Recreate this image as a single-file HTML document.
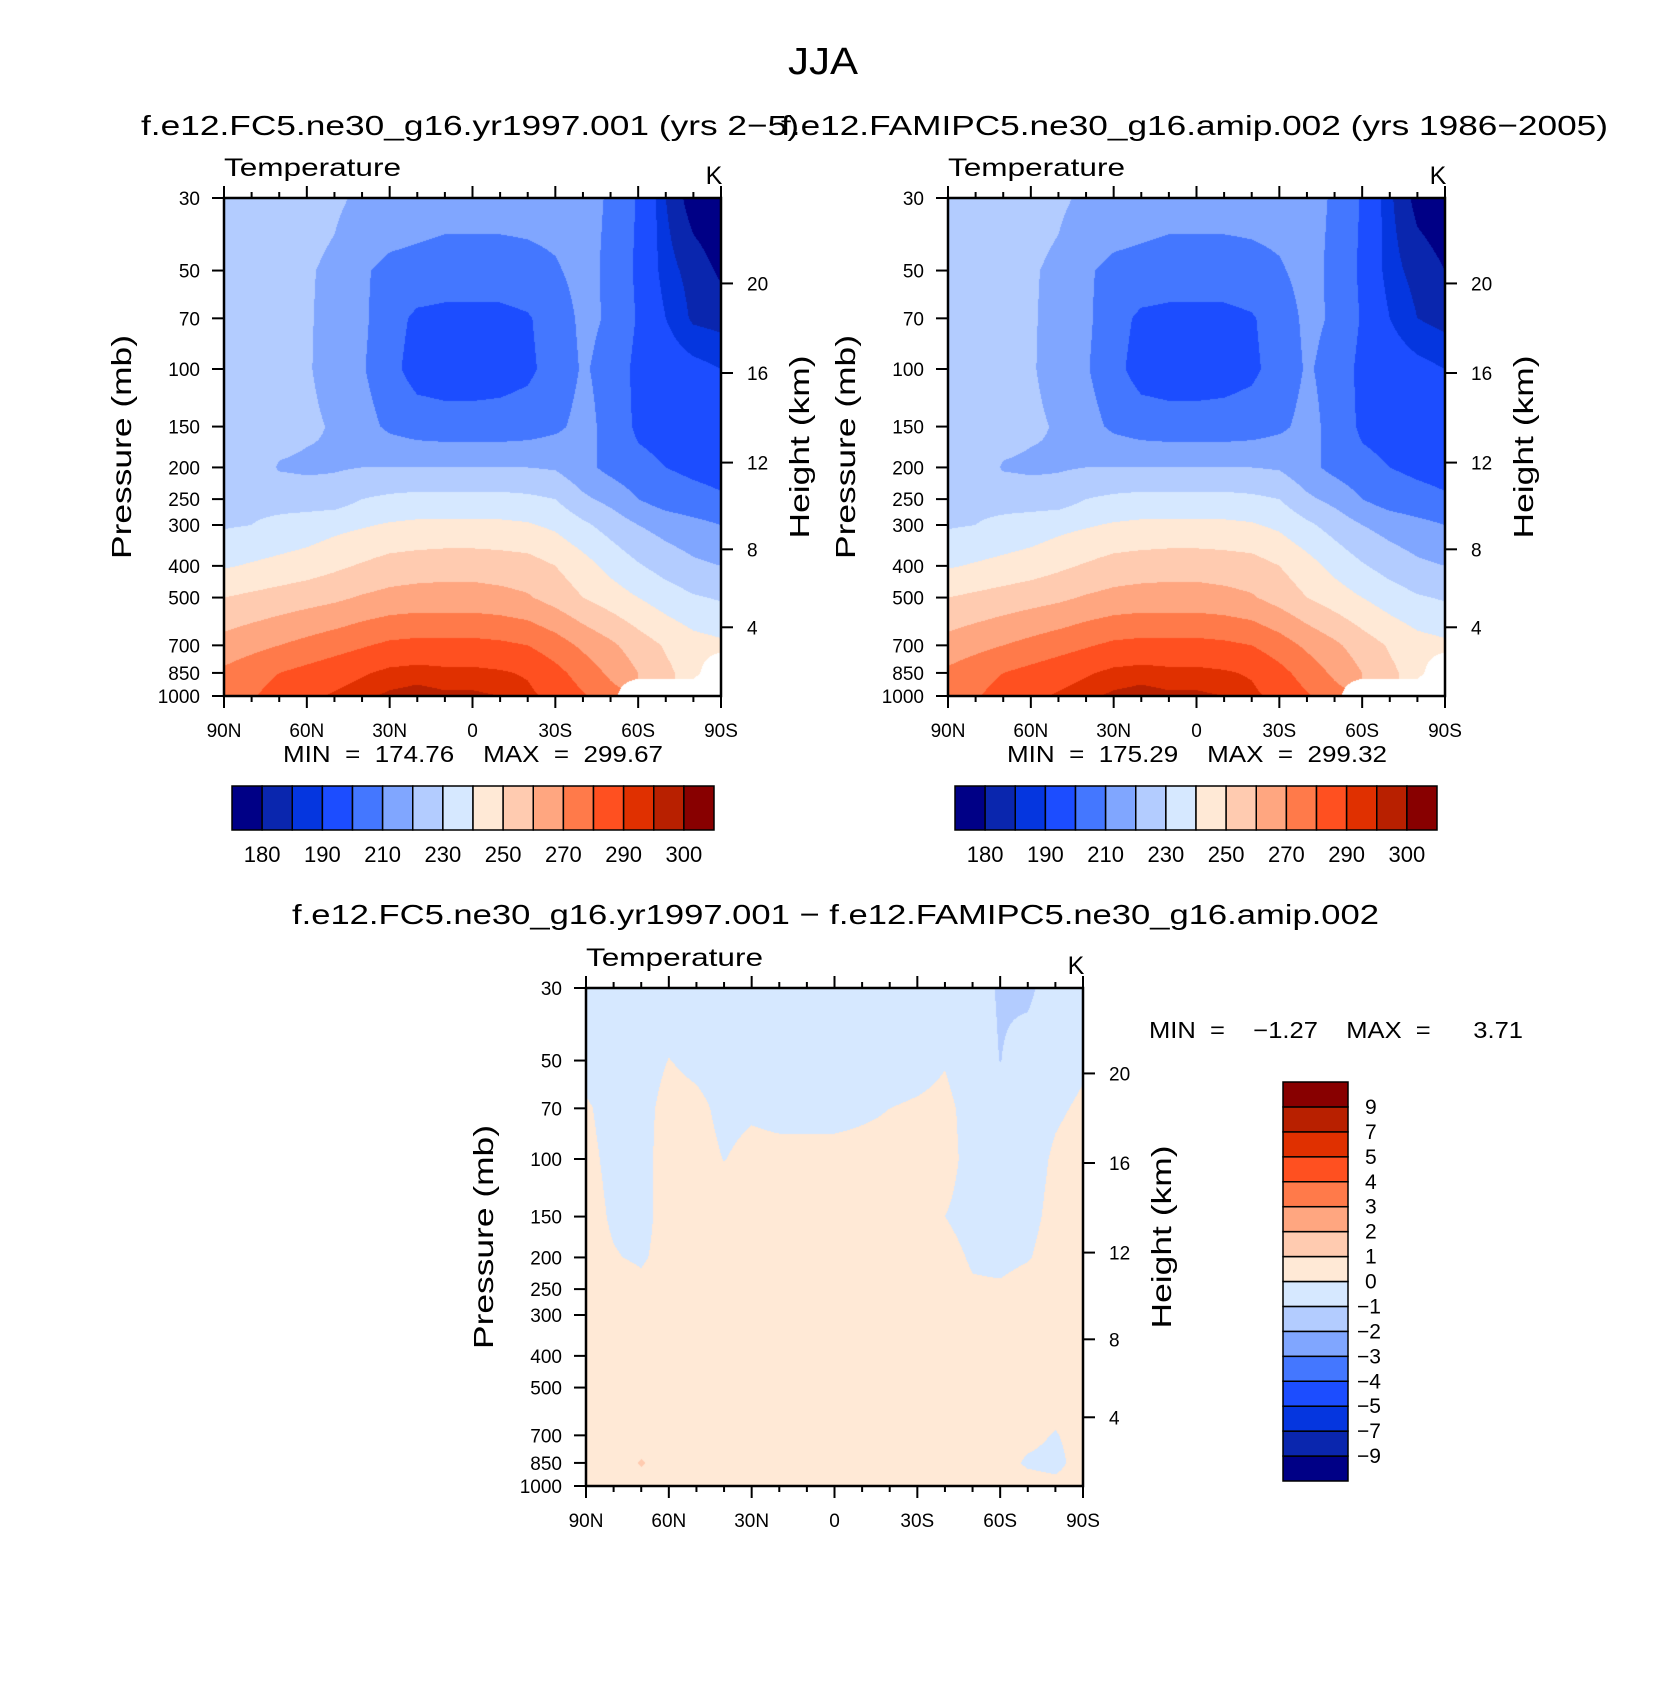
<!DOCTYPE html>
<html><head><meta charset="utf-8">
<style>
html,body{margin:0;padding:0;background:#fff;}
#wrap{position:relative;width:1666px;height:1688px;overflow:hidden;font-family:"Liberation Sans",sans-serif;}
canvas{position:absolute;}
svg{position:absolute;left:0;top:0;}
</style></head>
<body>
<div id="wrap">
<canvas id="c1" width="497" height="498" style="left:224px;top:198px"></canvas>
<canvas id="c2" width="497" height="498" style="left:948px;top:198px"></canvas>
<canvas id="c3" width="497" height="498" style="left:586px;top:988px"></canvas>
<svg id="svg" width="1666" height="1688" viewBox="0 0 1666 1688"></svg>
</div>
<script>
// ---- data ----
const lats = [90,80,70,60,50,40,30,20,10,0,-10,-20,-30,-40,-50,-60,-70,-80,-90];
const plevs = [30,50,70,100,150,200,250,300,400,500,700,850,1000];
const absLevels = [180,185,190,200,210,220,230,240,250,260,270,280,290,295,300];
const absTicks = ["180","190","210","230","250","270","290","300"];
const diffLevels = [-9,-7,-5,-4,-3,-2,-1,0,1,2,3,4,5,7,9];
const diffTicks = ["-9","-7","-5","-4","-3","-2","-1","0","1","2","3","4","5","7","9"];
const xTickLabels = ["90N","60N","30N","0","30S","60S","90S"];
const pTickLabels = [30,50,70,100,150,200,250,300,400,500,700,850,1000];
const kmTicks = [4,8,12,16,20];
const N = null;
const tempCtl = [
[226,226,225,224,222,218,216,215,214,214,214,214,214,213,209,199,185,177,175],
[226,225,224,221,218,211,208,207,206,206,206,207,209,213,208,198,187,183,179],
[226,225,223,221,217,212,204,198,197,197,197,199,205,212,209,199,190,184,183],
[227,226,224,221,216,211,203,196,195,195,196,198,204,211,207,197,194,192,190],
[228,227,225,222,219,214,208,205,204,204,204,205,208,213,207,198,196,194,193],
[227,227,219,218,219,220,220,220,220,220,220,220,219,213,207,203,200,198,197],
[228,228,227,226,225,230,232,233,233,233,233,232,230,222,217,210,205,203,201],
[229,230,232,234,237,239,241,242,242,242,242,241,238,232,226,220,216,213,210],
[239,241,243,245,248,251,254,255,256,256,255,254,250,244,237,231,226,222,220],
[250,252,254,256,258,261,263,264,264,264,263,261,256,250,245,240,235,231,229],
[264,267,270,273,276,279,282,283,283,283,282,280,275,268,262,255,249,244,242],
[272,276,280,283,286,289,292,293,292,292,291,289,283,276,268,260,252,246,N],
[276,279,284,288,291,294,296,297,296,296,295,292,287,281,274,N,N,N,N]];
const tempAmip = [
[226,226,225,224,222,218,216,215,214,214,214,214,214,213,209,199,186,178,176],
[226,225,224,221,218,211,208,207,206,206,206,207,209,213,208,198,187,183,180],
[226,225,223,221,217,212,204,198,197,197,197,199,205,212,209,199,190,185,183],
[227,226,224,221,216,211,203,196,195,195,196,198,204,211,207,197,194,192,190],
[228,227,225,222,219,214,208,205,204,204,204,205,208,213,207,198,196,194,193],
[227,227,219,218,219,220,220,220,220,220,220,220,219,213,207,203,200,198,197],
[228,228,227,226,225,230,232,233,233,233,233,232,230,222,217,210,205,203,201],
[229,230,232,234,237,239,241,242,242,242,242,241,238,232,226,220,216,213,210],
[239,241,243,245,248,251,254,255,256,256,255,254,250,244,237,231,226,222,220],
[250,252,254,256,258,261,263,264,264,264,263,261,256,250,245,240,235,231,229],
[264,267,270,273,276,279,282,283,283,283,282,280,275,268,262,255,249,244,242],
[272,276,280,283,286,289,292,293,292,292,291,289,283,276,268,260,252,246,N],
[276,279,284,288,291,294,296,297,296,296,295,292,287,281,274,N,N,N,N]];
const tempDiff = [
[-0.5,-0.5,-0.5,-0.5,-0.5,-0.5,-0.5,-0.5,-0.5,-0.5,-0.5,-0.5,-0.5,-0.5,-0.6,-1.1,-1.2,-0.5,-0.4],
[-0.3,-0.4,-0.4,0.02,-0.2,-0.4,-0.4,-0.4,-0.4,-0.4,-0.4,-0.4,-0.3,-0.05,-0.5,-1.02,-0.6,-0.3,-0.1],
[0.1,-0.3,-0.3,0.3,0.2,-0.2,-0.1,-0.2,-0.2,-0.2,-0.1,0.0,0.1,0.2,-0.3,-0.5,-0.4,-0.1,0.1],
[0.2,-0.2,-0.3,0.4,0.3,-0.02,0.2,0.2,0.2,0.2,0.2,0.2,0.3,0.3,-0.3,-0.4,-0.3,0.1,0.3],
[0.3,-0.1,-0.3,0.4,0.4,0.4,0.4,0.4,0.4,0.4,0.4,0.4,0.4,0.0,-0.3,-0.4,-0.2,0.2,0.4],
[0.3,0.05,-0.1,0.3,0.4,0.4,0.4,0.4,0.4,0.4,0.4,0.4,0.4,0.3,-0.1,-0.2,-0.05,0.3,0.4],
[0.4,0.4,0.2,0.4,0.4,0.4,0.4,0.4,0.4,0.4,0.4,0.4,0.4,0.4,0.1,0.1,0.3,0.4,0.4],
[0.4,0.4,0.4,0.4,0.4,0.4,0.4,0.4,0.4,0.4,0.4,0.4,0.4,0.4,0.4,0.4,0.4,0.4,0.4],
[0.4,0.4,0.5,0.4,0.4,0.4,0.4,0.4,0.4,0.4,0.4,0.4,0.4,0.4,0.4,0.4,0.4,0.4,0.4],
[0.4,0.4,0.5,0.4,0.4,0.4,0.4,0.4,0.4,0.4,0.4,0.4,0.4,0.4,0.4,0.4,0.4,0.4,0.3],
[0.4,0.4,0.4,0.4,0.4,0.4,0.4,0.4,0.4,0.4,0.4,0.4,0.4,0.4,0.4,0.3,0.2,-0.05,0.3],
[0.4,0.4,1.1,0.4,0.4,0.4,0.4,0.4,0.4,0.4,0.4,0.4,0.4,0.4,0.4,0.3,-0.1,-0.2,0.3],
[0.4,0.4,0.5,0.4,0.4,0.4,0.4,0.4,0.4,0.4,0.4,0.4,0.4,0.4,0.4,0.3,0.3,0.2,0.3]];
const colors = ["#000086","#0a26ae","#0536df","#1c4dff","#4477ff","#80a6ff","#b3ccff","#d6e8ff",
 "#ffe9d6","#ffcbb0","#ffa680","#ff7a4a","#ff5020","#e03000","#b82000","#880000"];

// ---- axis functions ----
const W=497,H=498;
const lp0=Math.log10(30), lp1=Math.log10(1000);
function yOfP(p){return (Math.log10(p)-lp0)/(lp1-lp0)*H;}
function xOfLat(l){return (90-l)/180*W;}
function pOfKm(z){z*=1000; return z<=11000?1013.25*Math.pow(1-2.25577e-5*z,5.25588):226.32*Math.exp(-(z-11000)/6341.6);}
function colorIdx(v,lv){let k=0;for(const L of lv){if(v>=L)k++;}return k;}

function drawField(id,grid,lv){
  const cv=document.getElementById(id),ctx=cv.getContext('2d');
  const img=ctx.createImageData(W,H);
  const ly=plevs.map(p=>yOfP(p));
  const rgb=colors.map(c=>[parseInt(c.substr(1,2),16),parseInt(c.substr(3,2),16),parseInt(c.substr(5,2),16)]);
  for(let y=0;y<H;y++){
    let j=0;while(j<plevs.length-2&&ly[j+1]<y+0.5)j++;
    const ty=Math.min(1,Math.max(0,(y+0.5-ly[j])/(ly[j+1]-ly[j])));
    for(let x=0;x<W;x++){
      const fx=(x+0.5)/W*(lats.length-1);let i=Math.min(lats.length-2,Math.floor(fx));const tx=fx-i;
      const a=grid[j][i],b=grid[j][i+1],c=grid[j+1][i],d=grid[j+1][i+1];
      const o=(y*W+x)*4;
      let col=[255,255,255];
      if(a!==null&&b!==null&&c!==null&&d!==null){
        const v=(a*(1-tx)+b*tx)*(1-ty)+(c*(1-tx)+d*tx)*ty;
        col=rgb[colorIdx(v,lv)];
      } else {
        let s=0,w=0;const cs=[[a,(1-tx)*(1-ty)],[b,tx*(1-ty)],[c,(1-tx)*ty],[d,tx*ty]];
        for(const [val,wt] of cs){if(val!==null){s+=val*wt;w+=wt;}}
        if(w>0.75){col=rgb[colorIdx(s/w,lv)];}
      }
      img.data[o]=col[0];img.data[o+1]=col[1];img.data[o+2]=col[2];img.data[o+3]=255;
    }
  }
  ctx.putImageData(img,0,0);
}
drawField('c1',tempCtl,absLevels);
drawField('c2',tempAmip,absLevels);
drawField('c3',tempDiff,diffLevels);

// ---- svg overlay ----
const svg=document.getElementById('svg');
const NS='http://www.w3.org/2000/svg';
function mk(tag,attrs,parent){const e=document.createElementNS(NS,tag);for(const k in attrs)e.setAttribute(k,attrs[k]);(parent||svg).appendChild(e);return e;}
function txt(s,x,y,size,anchor,parent,len){const t=mk('text',{x:x,y:y,'font-size':size,'text-anchor':anchor||'start','font-family':'Liberation Sans, sans-serif',fill:'#000'},parent);
  if(len){t.setAttribute('textLength',len);t.setAttribute('lengthAdjust','spacingAndGlyphs');}
  t.textContent=s;return t;}

const t0=txt('JJA',823,74,38,'middle',null,70);

const st1=txt('f.e12.FC5.ne30_g16.yr1997.001 (yrs 2\u22125)',141,135,28,'start',null,658);

const st2=txt('f.e12.FAMIPC5.ne30_g16.amip.002 (yrs 1986\u22122005)',781,135,28,'start',null,827);

const st3=txt('f.e12.FC5.ne30_g16.yr1997.001 \u2212 f.e12.FAMIPC5.ne30_g16.amip.002',292,924,28,'start',null,1087);


function axes(L,T,name){
  const g=mk('g',{});
  
  
  const tt=txt('Temperature',L,T-22,25,'start',g,177);
  
  const kk=txt('K',L+W-7,T-14,25,'middle',g);
  
  mk('rect',{x:L,y:T,width:W,height:H,fill:'none',stroke:'#000','stroke-width':2.5},g);
  for(let l=90;l>=-90;l-=10){
    const x=L+xOfLat(l);const major=(l%30===0);const len=major?12:6;
    mk('line',{x1:x,y1:T,x2:x,y2:T-len,stroke:'#000','stroke-width':2},g);
    mk('line',{x1:x,y1:T+H,x2:x,y2:T+H+len,stroke:'#000','stroke-width':2},g);
  }
  xTickLabels.forEach((s,i)=>{const lab=txt(s,L+i*W/6,T+H+41,19,'middle',g);
    });
  pTickLabels.forEach(p=>{const y=T+yOfP(p);
    mk('line',{x1:L,y1:y,x2:L-12,y2:y,stroke:'#000','stroke-width':2},g);
    const lab=txt(String(p),L-24,y+7,19,'end',g);
    });
  kmTicks.forEach(z=>{const y=T+yOfP(pOfKm(z));
    mk('line',{x1:L+W,y1:y,x2:L+W+12,y2:y,stroke:'#000','stroke-width':2},g);
    const lab=txt(String(z),L+W+26,y+7,19,'start',g);
    });
  const cy=T+H/2;
  const py=txt('Pressure  (mb)',0,0,28,'middle',g,224);py.setAttribute('transform',`translate(${L-93},${cy}) rotate(-90)`);
  
  const hy=txt('Height  (km)',0,0,28,'middle',g,183);hy.setAttribute('transform',`translate(${L+W+88},${cy}) rotate(-90)`);
  
}
axes(224,198,'control');
axes(948,198,'amip');
axes(586,988,'difference');

function minmax(s,x,y,anchor,name,len){const t=txt(s,x,y,23,anchor,null,len);t.style.whiteSpace='pre';
  }
minmax('MIN  =  174.76    MAX  =  299.67',283,762,'start','control-min-max',380);
minmax('MIN  =  175.29    MAX  =  299.32',1007,762,'start','amip-min-max',380);
minmax('MIN  =    \u22121.27    MAX  =      3.71',1149,1038,'start','difference-min-max',374);

function hbar(x0,x1,y0,y1,name){
  const g=mk('g',{});
  const bw=(x1-x0)/colors.length;
  colors.forEach((c,i)=>{const r=mk('rect',{x:x0+i*bw,y:y0,width:bw,height:y1-y0,fill:c,stroke:'#000','stroke-width':1.5},g);
    });
  absTicks.forEach((s,k)=>{const lab=txt(s,x0+(2*k+1)*bw,y1+32,22,'middle',g);
    });
}
hbar(232,714,786,830,'control-colorbar');
hbar(955,1437,786,830,'amip-colorbar');

(function(){
  const x0=1283,x1=1348,y0=1082,y1=1481;
  const g=mk('g',{});
  const bh=(y1-y0)/colors.length;
  colors.forEach((c,i)=>{const r=mk('rect',{x:x0,y:y1-(i+1)*bh,width:x1-x0,height:bh,fill:c,stroke:'#000','stroke-width':1.5},g);
    });
  diffTicks.forEach((s,k)=>{const lab=txt(s.replace('-','\u2212'),x0+(s.startsWith('-')?74:82),y1-(k+1)*bh+7,21,'start',g);
    });
})();
</script>
</body></html>
